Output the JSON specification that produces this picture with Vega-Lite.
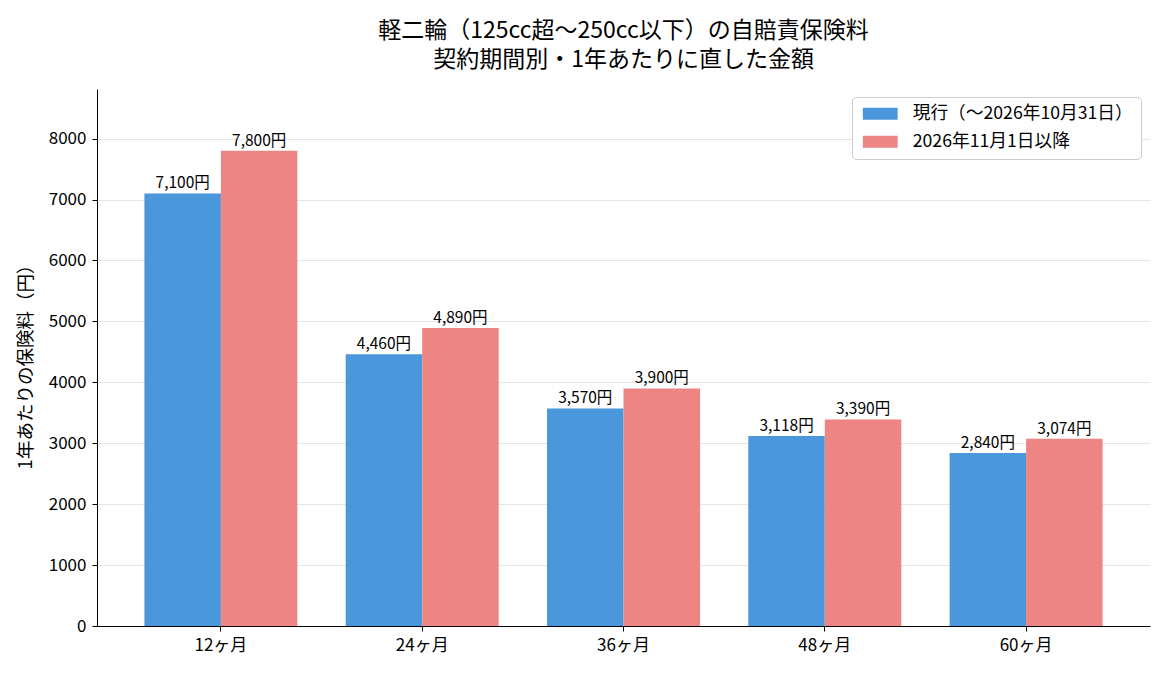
{
  "$schema": "https://vega.github.io/schema/vega-lite/v6.json",
  "autosize": {"type": "none"},
  "width": 1053,
  "height": 537,
  "padding": {"left": 97, "top": 89, "right": 20, "bottom": 50},
  "background": "white",
  "config": {
    "font": "Noto Sans CJK JP",
    "view": {"stroke": null},
    "axis": {"labelFont": "Noto Sans CJK JP", "titleFont": "Noto Sans CJK JP"}
  },
  "title": {
    "text": ["軽二輪（125cc超〜250cc以下）の自賠責保険料", "契約期間別・1年あたりに直した金額"],
    "fontSize": 23,
    "fontWeight": "normal",
    "lineHeight": 29,
    "anchor": "middle",
    "frame": "group",
    "offset": 17,
    "color": "#000000"
  },
  "data": {
    "values": [
      {"period": "12ヶ月", "series": "現行（〜2026年10月31日）", "value": 7100},
      {"period": "12ヶ月", "series": "2026年11月1日以降", "value": 7800},
      {"period": "24ヶ月", "series": "現行（〜2026年10月31日）", "value": 4460},
      {"period": "24ヶ月", "series": "2026年11月1日以降", "value": 4890},
      {"period": "36ヶ月", "series": "現行（〜2026年10月31日）", "value": 3570},
      {"period": "36ヶ月", "series": "2026年11月1日以降", "value": 3900},
      {"period": "48ヶ月", "series": "現行（〜2026年10月31日）", "value": 3118},
      {"period": "48ヶ月", "series": "2026年11月1日以降", "value": 3390},
      {"period": "60ヶ月", "series": "現行（〜2026年10月31日）", "value": 2840},
      {"period": "60ヶ月", "series": "2026年11月1日以降", "value": 3074}
    ]
  },
  "transform": [
    {"calculate": "format(datum.value, ',') + '円'", "as": "label"}
  ],
  "encoding": {
    "x": {
      "field": "period",
      "type": "nominal",
      "sort": null,
      "scale": {"paddingInner": 0.24, "paddingOuter": 0.2355},
      "axis": {
        "title": null,
        "labelAngle": 0,
        "labelFontSize": 17,
        "labelColor": "#000000",
        "domainColor": "#000000",
        "tickColor": "#000000",
        "tickSize": 5,
        "labelPadding": 6,
        "grid": false
      }
    },
    "xOffset": {
      "field": "series",
      "type": "nominal",
      "sort": ["現行（〜2026年10月31日）", "2026年11月1日以降"],
      "scale": {"paddingInner": 0, "paddingOuter": 0}
    },
    "y": {
      "field": "value",
      "type": "quantitative",
      "scale": {"domain": [0, 8814], "nice": false},
      "axis": {
        "title": "1年あたりの保険料（円）",
        "titleFontSize": 18.5,
        "titleFontWeight": "normal",
        "titleColor": "#000000",
        "titleX": -62,
        "titleY": 273,
        "values": [0, 1000, 2000, 3000, 4000, 5000, 6000, 7000, 8000],
        "format": "d",
        "labelFontSize": 17,
        "labelColor": "#000000",
        "domainColor": "#000000",
        "tickColor": "#000000",
        "tickSize": 5,
        "labelPadding": 6,
        "grid": true,
        "gridColor": "#e6e6e6",
        "gridWidth": 1
      }
    }
  },
  "layer": [
    {
      "mark": {"type": "bar"},
      "encoding": {
        "color": {
          "field": "series",
          "type": "nominal",
          "sort": ["現行（〜2026年10月31日）", "2026年11月1日以降"],
          "scale": {"domain": ["現行（〜2026年10月31日）", "2026年11月1日以降"], "range": ["#4a97db", "#ed8584"]},
          "legend": {
            "title": null,
            "orient": "none",
            "legendX": 755,
            "legendY": 8,
            "symbolType": "M-1,-1H4.8V1H-1Z",
            "symbolSize": 144,
            "symbolStrokeWidth": 0,
            "symbolOpacity": 1,
            "labelFontSize": 17.7,
            "labelColor": "#000000",
            "labelFont": "Noto Sans CJK JP",
            "labelOffset": 35,
            "labelLimit": 400,
            "rowPadding": 8.8,
            "padding": 8,
            "strokeColor": "#cccccc",
            "cornerRadius": 4,
            "fillColor": "#ffffff"
          }
        }
      }
    },
    {
      "mark": {"type": "text", "baseline": "bottom", "dy": -2, "fontSize": 15.5, "color": "#000000"},
      "encoding": {
        "text": {"field": "label", "type": "nominal"}
      }
    }
  ]
}
